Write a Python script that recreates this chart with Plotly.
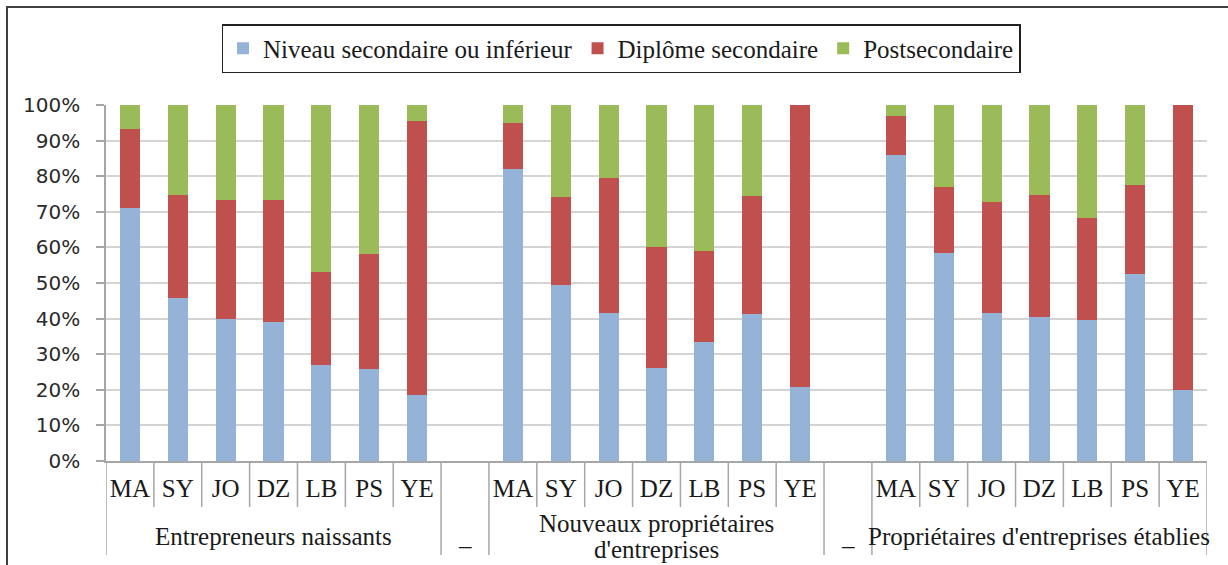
import plotly.graph_objects as go

countries = ["MA", "SY", "JO", "DZ", "LB", "PS", "YE"]
groups = [["Entrepreneurs naissants"],
          ["Nouveaux propriétaires", "d'entreprises"],
          ["Propriétaires d'entreprises établies"]]
gap_label = "–"

series_names = ["Niveau secondaire ou inférieur", "Diplôme secondaire", "Postsecondaire"]

niveau_naissants = [71.2, 45.7, 39.9, 39.0, 27.1, 25.8, 18.6]
niveau_nouveaux = [81.9, 49.5, 41.7, 26.0, 33.5, 41.2, 20.9]
niveau_etablis = [86.0, 58.3, 41.6, 40.4, 39.5, 52.4, 20.0]

diplome_naissants = [22.1, 28.9, 33.4, 34.3, 26.0, 32.3, 76.9]
diplome_nouveaux = [13.0, 24.7, 37.8, 34.0, 25.4, 33.1, 79.1]
diplome_etablis = [10.8, 18.8, 31.2, 34.2, 28.8, 25.2, 80.0]

post_naissants = [6.7, 25.4, 26.7, 26.7, 46.9, 41.9, 4.5]
post_nouveaux = [5.1, 25.8, 20.5, 40.0, 41.1, 25.7, 0.0]
post_etablis = [3.2, 22.9, 27.2, 25.4, 31.7, 22.4, 0.0]

colors = ["#95B3D7", "#C0504D", "#9BBB59"]

series_values = [
    niveau_naissants + niveau_nouveaux + niveau_etablis,
    diplome_naissants + diplome_nouveaux + diplome_etablis,
    post_naissants + post_nouveaux + post_etablis,
]

n = len(countries)
step = n + 1  # one empty slot between groups
xpos = [g * step + i for g in range(len(groups)) for i in range(n)]
tick_text = countries * len(groups)
n_slots = len(groups) * step - 1

SERIF = "Liberation Serif, serif"
SANS = "DejaVu Sans, sans-serif"
TXT = "#1a1a1a"

fig = go.Figure()
for name, vals, col in zip(series_names, series_values, colors):
    fig.add_trace(go.Bar(x=xpos, y=vals, name=name, marker_color=col,
                         marker_line_width=0, width=0.42))

# plot area geometry (pixels) for converting to paper coords
W, H = 1228, 565
ml, mr, mt, mb = 106, 21, 105, 104
pw, ph = W - ml - mr, H - mt - mb

def py(pixel_y):
    return (H - mb - pixel_y) / ph

def px(pixel_x):
    return (pixel_x - ml) / pw

shapes = []
# separators between categories
long_bounds = set()
for g in range(len(groups)):
    long_bounds.add(g * step - 0.5)
    long_bounds.add(g * step + n - 0.5)
for k in range(n_slots + 1):
    b = k - 0.5
    y_end = py(555) if b in long_bounds else py(507)
    shapes.append(dict(type="line", xref="x", yref="paper", x0=b, x1=b,
                       y0=0, y1=y_end, line=dict(color="#A6A6A6", width=1.5)))
# outer chart border
shapes.append(dict(type="rect", xref="paper", yref="paper",
                   x0=px(7), x1=px(1240), y0=py(580), y1=py(7),
                   line=dict(color="#404040", width=2), layer="above"))

annotations = []
line_h = 26
for g, lines in enumerate(groups):
    center = g * step + (n - 1) / 2
    first_y = 536 - (len(lines) - 1) * line_h / 2
    for j, line in enumerate(lines):
        annotations.append(dict(text=line, x=center, xref="x",
                                y=py(first_y + j * line_h), yref="paper",
                                showarrow=False, yanchor="middle",
                                font=dict(family=SERIF, size=25, color=TXT)))
for g in range(len(groups) - 1):
    annotations.append(dict(text=gap_label, x=g * step + n, xref="x", y=py(545),
                            yref="paper", showarrow=False, yanchor="middle",
                            font=dict(family=SERIF, size=25, color=TXT)))

fig.update_layout(
    width=W, height=H,
    margin=dict(l=ml, r=mr, t=mt, b=mb, autoexpand=False),
    barmode="stack",
    bargap=0,
    plot_bgcolor="white",
    paper_bgcolor="white",
    shapes=shapes,
    annotations=annotations,
    legend=dict(orientation="h", x=px(621), xanchor="center", y=py(24), yanchor="top",
                bordercolor="#222222", borderwidth=1.5, bgcolor="white",
                font=dict(family=SERIF, size=25, color=TXT),
                traceorder="normal", itemclick=False),
    xaxis=dict(range=[-0.5, n_slots - 0.5], tickmode="array", tickvals=xpos,
               ticktext=tick_text, ticks="", showgrid=False, zeroline=False,
               showline=True, linecolor="#A6A6A6", linewidth=1.5,
               tickfont=dict(family=SERIF, size=25, color=TXT),
               ticklabelstandoff=4),
    yaxis=dict(range=[0, 100], dtick=10, ticksuffix="%", ticks="outside",
               ticklen=8, tickcolor="#A6A6A6", tickwidth=1.5,
               showgrid=True, gridcolor="#D4D4D4", gridwidth=1.5,
               zeroline=False, showline=True, linecolor="#A6A6A6", linewidth=1.5,
               tickfont=dict(family=SANS, size=20, color="#2a2a2a"),
               ticklabelstandoff=12),
)

fig.write_html("out.html",
               config={"displayModeBar": False},
               post_script="document.body.style.margin='0';document.body.style.overflow='hidden';")
